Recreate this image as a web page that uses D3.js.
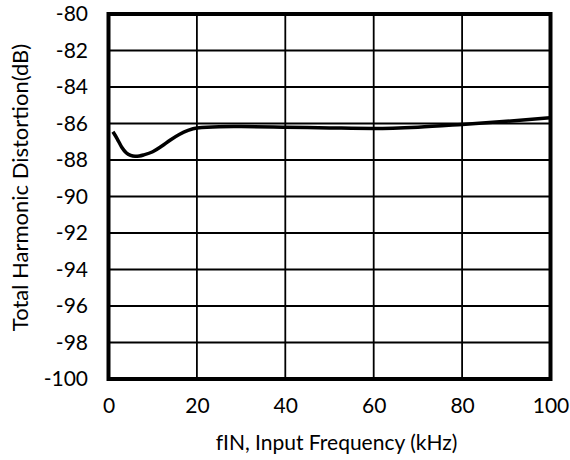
<!DOCTYPE html>
<html><head><meta charset="utf-8">
<script src="https://cdn.jsdelivr.net/npm/d3@7"></script>
<style>body{margin:0;background:#fff}svg{display:block}text{font-family:Lato,"Open Sans",sans-serif;fill:#000}</style>
</head><body><svg id="c" width="570" height="460"></svg>
<script>
const freq = [1, 2, 3, 4, 5, 6, 7, 8, 10, 12, 14, 16, 18, 20, 25, 30, 40, 50, 60, 70, 80, 90, 100];
const thd = [-86.45, -86.85, -87.3, -87.6, -87.75, -87.8, -87.78, -87.72, -87.55, -87.25, -86.9, -86.6, -86.38, -86.25, -86.18, -86.17, -86.2, -86.24, -86.27, -86.2, -86.05, -85.88, -85.68];
const xTicks = [0, 20, 40, 60, 80, 100];
const yTicks = [-80, -82, -84, -86, -88, -90, -92, -94, -96, -98, -100];
const xTitle = "fIN, Input Frequency (kHz)";
const yTitle = "Total Harmonic Distortion(dB)";

const svg = d3.select("#c");
const L = 108.5, R = 550.5, T = 14, B = 379;
const x = d3.scaleLinear().domain([0, 100]).range([L, R]);
const y = d3.scaleLinear().domain([-100, -80]).range([B, T]);

const g = svg.append("g");
g.selectAll("line.v").data(xTicks).enter().append("line")
  .attr("x1", d => x(d)).attr("x2", d => x(d)).attr("y1", T).attr("y2", B)
  .attr("stroke", "#000").attr("stroke-width", 1.8);
g.selectAll("line.h").data(yTicks).enter().append("line")
  .attr("y1", d => y(d)).attr("y2", d => y(d)).attr("x1", L).attr("x2", R)
  .attr("stroke", "#000").attr("stroke-width", 1.8);

const line = d3.line().x((d, i) => x(freq[i])).y(d => y(d)).curve(d3.curveMonotoneX);
g.append("path").datum(thd).attr("d", line).attr("fill", "none")
  .attr("stroke", "#000").attr("stroke-width", 3.5).attr("stroke-linejoin", "round");

g.append("rect").attr("x", L).attr("y", T).attr("width", R - L).attr("height", B - T)
  .attr("fill", "none").attr("stroke", "#000").attr("stroke-width", 4);

const fmt = d => String(d);
const xa = svg.append("g").attr("transform", `translate(0,${B})`)
  .call(d3.axisBottom(x).tickValues(xTicks).tickSize(0).tickPadding(19).tickFormat(fmt));
xa.select(".domain").remove();
xa.selectAll("text").style("font-size", "21px").style("font-family", "Lato");

const ya = svg.append("g").attr("transform", `translate(${L},0)`)
  .call(d3.axisLeft(y).tickValues(yTicks).tickSize(0).tickPadding(20.5).tickFormat(fmt));
ya.select(".domain").remove();
ya.selectAll("text").style("font-size", "21px").style("font-family", "Lato");

svg.append("text").attr("x", (L + R) / 2 + 7).attr("y", 450).attr("text-anchor", "middle")
  .style("font-size", "21px").text(xTitle);
svg.append("text").attr("transform", `translate(27.5,187.5) rotate(-90)`)
  .attr("text-anchor", "middle").style("font-size", "22px").text(yTitle);
</script></body></html>
